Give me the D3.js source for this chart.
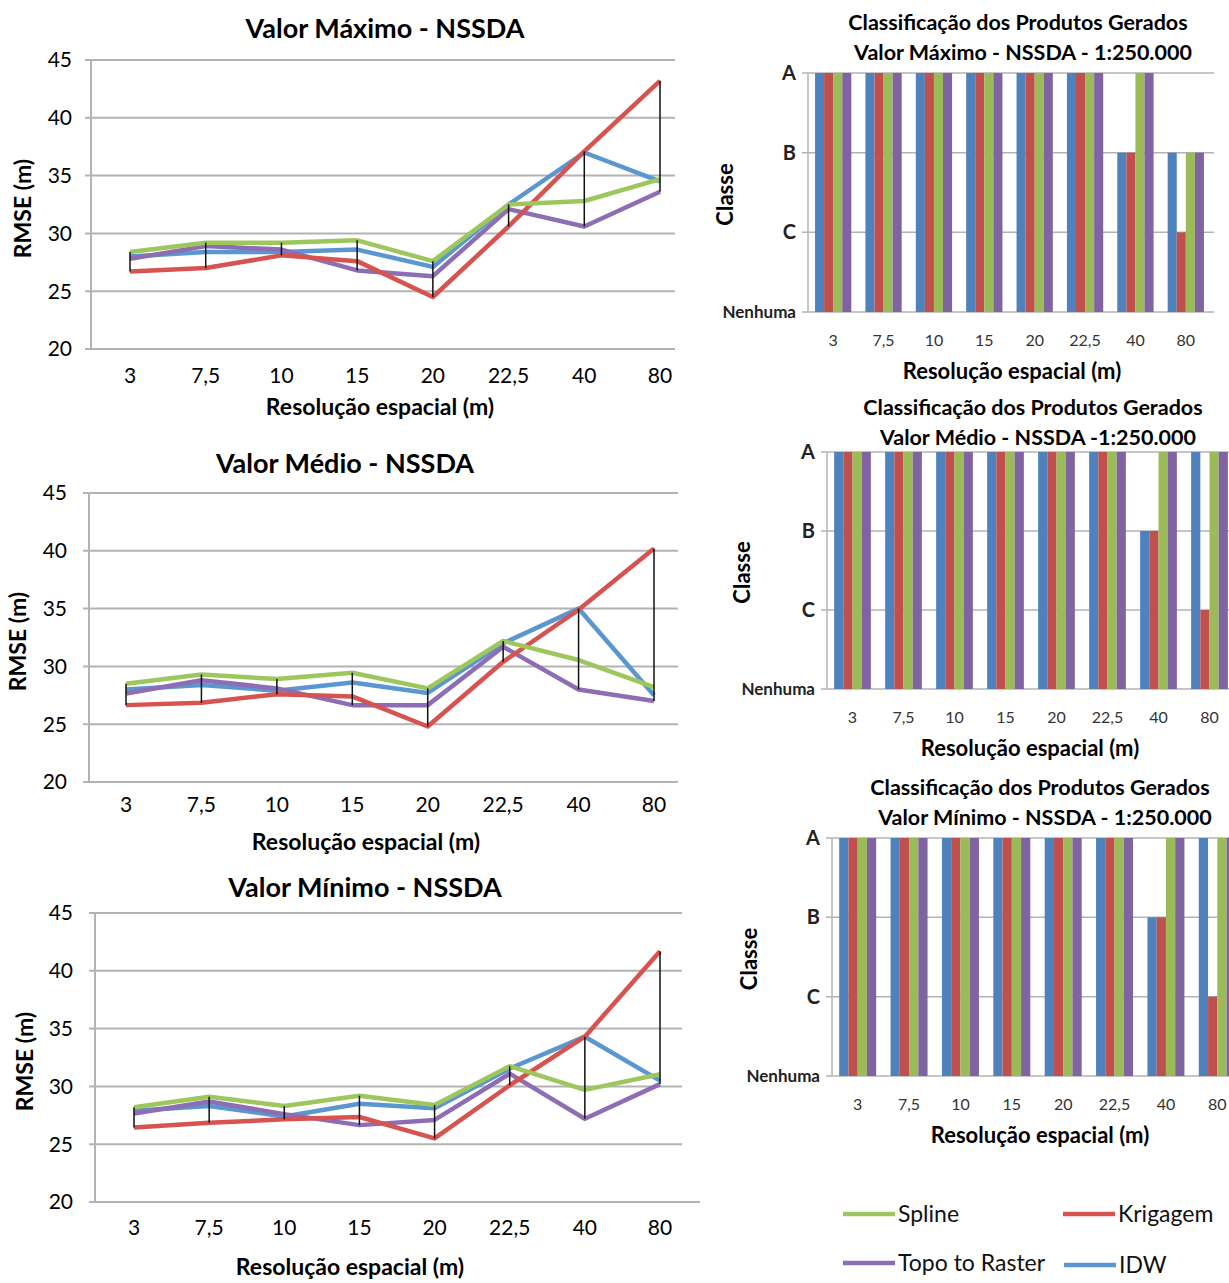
<!DOCTYPE html>
<html>
<head>
<meta charset="utf-8">
<script src="https://cdn.jsdelivr.net/npm/d3@7"></script>
<style>
  body { margin: 0; background: #fff; }
  svg { display: block; font-family: Lato, "Open Sans", sans-serif; }
</style>
</head>
<body>
<svg id="chart" width="1229" height="1283"></svg>
<script>
// categories (spatial resolution, m)
const categories = ['3', '7,5', '10', '15', '20', '22,5', '40', '80']
const yTicks = [20, 25, 30, 35, 40, 45]

// RMSE, valor maximo
const maxSpline   = [28.4, 29.2, 29.2, 29.4, 27.6, 32.5, 32.8, 34.7]
const maxKrigagem = [26.7, 27.0, 28.1, 27.6, 24.5, 30.6, 37.1, 43.2]
const maxTopo     = [27.8, 28.9, 28.6, 26.8, 26.3, 32.1, 30.6, 33.6]
const maxIdw      = [28.0, 28.4, 28.4, 28.6, 27.1, 32.5, 37.0, 34.5]

// RMSE, valor medio
const medSpline   = [28.5, 29.3, 28.9, 29.45, 28.1, 32.2, 30.55, 28.2]
const medKrigagem = [26.65, 26.85, 27.6, 27.4, 24.8, 30.4, 34.9, 40.2]
const medTopo     = [27.65, 28.8, 28.1, 26.65, 26.65, 31.7, 28.0, 27.0]
const medIdw      = [28.0, 28.4, 27.9, 28.6, 27.7, 32.0, 35.0, 27.5]

// RMSE, valor minimo
const minSpline   = [28.2, 29.1, 28.3, 29.2, 28.4, 31.75, 29.7, 31.05]
const minKrigagem = [26.45, 26.85, 27.15, 27.35, 25.5, 30.1, 34.3, 41.7]
const minTopo     = [27.65, 28.7, 27.6, 26.65, 27.1, 31.1, 27.2, 30.2]
const minIdw      = [27.9, 28.3, 27.4, 28.5, 28.1, 31.55, 34.3, 30.5]

// classes (PEC), per method
const classLevels = ['Nenhuma', 'C', 'B', 'A']
const maxClassIdw      = ['A', 'A', 'A', 'A', 'A', 'A', 'B', 'B']
const maxClassKrigagem = ['A', 'A', 'A', 'A', 'A', 'A', 'B', 'C']
const maxClassSpline   = ['A', 'A', 'A', 'A', 'A', 'A', 'A', 'B']
const maxClassTopo     = ['A', 'A', 'A', 'A', 'A', 'A', 'A', 'B']
const medClassIdw      = ['A', 'A', 'A', 'A', 'A', 'A', 'B', 'A']
const medClassKrigagem = ['A', 'A', 'A', 'A', 'A', 'A', 'B', 'C']
const medClassSpline   = ['A', 'A', 'A', 'A', 'A', 'A', 'A', 'A']
const medClassTopo     = ['A', 'A', 'A', 'A', 'A', 'A', 'A', 'A']
const minClassIdw      = ['A', 'A', 'A', 'A', 'A', 'A', 'B', 'A']
const minClassKrigagem = ['A', 'A', 'A', 'A', 'A', 'A', 'B', 'C']
const minClassSpline   = ['A', 'A', 'A', 'A', 'A', 'A', 'A', 'A']
const minClassTopo     = ['A', 'A', 'A', 'A', 'A', 'A', 'A', 'A']

const lineColors = { 'Spline':'#9dc75c', 'Krigagem':'#d6534f', 'Topo to Raster':'#8d6db3', 'IDW':'#5a96d0' }
const barColors  = { 'IDW':'#4f81bd', 'Krigagem':'#c0504d', 'Spline':'#9bbb59', 'Topo to Raster':'#8064a2' }
const legendOrder = ['Spline', 'Krigagem', 'Topo to Raster', 'IDW']

const svg = d3.select('#chart')
const grid = '#b3b3b3'

function lineChart(c) {
    var g = svg.append('g')
    var x = d3.scalePoint().domain(categories).range([c.x0, c.x1])
    var y = d3.scaleLinear().domain([20, 45]).range([c.yb, c.yt])

    // gridlines
    g.selectAll('line.grid').data(yTicks).enter().append('line')
        .attr('x1', c.axisX - 6).attr('x2', c.gridEnd)
        .attr('y1', d => y(d)).attr('y2', d => y(d))
        .attr('stroke', grid).attr('stroke-width', 2)
    g.append('line').attr('x1', c.axisX).attr('x2', c.axisX)
        .attr('y1', y(45)).attr('y2', y(20))
        .attr('stroke', grid).attr('stroke-width', 2)
    if (c.axisEnd) g.append('line').attr('x1', c.axisX).attr('x2', c.axisEnd)
        .attr('y1', y(20)).attr('y2', y(20)).attr('stroke', grid).attr('stroke-width', 2)

    // tick labels
    g.selectAll('text.yt').data(yTicks).enter().append('text')
        .attr('x', c.labelX).attr('y', d => y(d)).attr('dy', '0.35em')
        .attr('text-anchor', 'end').attr('font-size', 21).text(d => d)
    g.selectAll('text.xt').data(categories).enter().append('text')
        .attr('x', d => x(d)).attr('y', c.xLabelY)
        .attr('text-anchor', 'middle').attr('font-size', 21).text(d => d)

    // titles
    g.append('text').attr('x', c.titleX).attr('y', c.titleY)
        .attr('text-anchor', 'middle').attr('font-size', 27).attr('font-weight', 'bold').text(c.title)
    g.append('text').attr('x', c.xTitleX).attr('y', c.xTitleY)
        .attr('text-anchor', 'middle').attr('font-size', 23).attr('font-weight', 'bold')
        .text('Resolução espacial (m)')
    g.append('text').attr('transform', 'translate(' + c.yTitleX + ',' + ((y(45) + y(20)) / 2 + 4) + ') rotate(-90)')
        .attr('text-anchor', 'middle').attr('font-size', 23).attr('font-weight', 'bold').text('RMSE (m)')

    var line = d3.line().x((d, i) => x(categories[i])).y(d => y(d))
    var order = ['IDW', 'Topo to Raster', 'Krigagem', 'Spline']
    order.forEach(function(name) {
        g.append('path').datum(c.series[name])
            .attr('d', line).attr('fill', 'none')
            .attr('stroke', lineColors[name]).attr('stroke-width', 4.5)
            .attr('stroke-linejoin', 'round')
    })

    // high-low lines
    var hl = categories.map(function(cat, i) {
        var vals = order.map(n => c.series[n][i])
        return { cat: cat, hi: d3.max(vals), lo: d3.min(vals) }
    })
    g.selectAll('line.hl').data(hl).enter().append('line')
        .attr('x1', d => x(d.cat)).attr('x2', d => x(d.cat))
        .attr('y1', d => y(d.hi)).attr('y2', d => y(d.lo))
        .attr('stroke', '#111').attr('stroke-width', 1.5)
}

function barChart(c) {
    var g = svg.append('g')
    var x = d3.scaleBand().domain(categories).range([c.x0, c.x1]).paddingInner(0.28).paddingOuter(0.14)
    var methods = ['IDW', 'Krigagem', 'Spline', 'Topo to Raster']
    var xs = d3.scaleBand().domain(methods).range([0, x.bandwidth()])
    var y = d3.scaleLinear().domain([0, 3]).range([c.yb, c.yt])

    g.selectAll('line.grid').data(d3.range(4)).enter().append('line')
        .attr('x1', c.x0 - 6).attr('x2', c.gridEnd)
        .attr('y1', d => y(d)).attr('y2', d => y(d))
        .attr('stroke', grid).attr('stroke-width', 1.5)
    g.append('line').attr('x1', c.x0).attr('x2', c.x0)
        .attr('y1', y(3)).attr('y2', y(0)).attr('stroke', grid).attr('stroke-width', 1.5)

    var cells = []
    categories.forEach(function(cat, i) {
        methods.forEach(function(m) {
            cells.push({ cat: cat, m: m, v: classLevels.indexOf(c.classes[m][i]) })
        })
    })
    g.selectAll('rect').data(cells).enter().append('rect')
        .attr('x', d => x(d.cat) + xs(d.m)).attr('width', xs.bandwidth())
        .attr('y', d => y(d.v)).attr('height', d => y(0) - y(d.v))
        .attr('fill', d => barColors[d.m])

    g.selectAll('text.yt').data(classLevels).enter().append('text')
        .attr('x', c.x0 - 12).attr('y', (d, i) => y(i)).attr('dy', '0.35em')
        .attr('text-anchor', 'end').attr('font-weight', 'bold')
        .attr('font-size', d => d == 'Nenhuma' ? 17 : 20).attr('fill', '#222').text(d => d)
    g.selectAll('text.xt').data(categories).enter().append('text')
        .attr('x', d => x(d) + x.bandwidth() / 2).attr('y', c.yb + 34)
        .attr('text-anchor', 'middle').attr('font-size', 16).attr('fill', '#333').text(d => d)

    g.append('text').attr('x', c.titleX).attr('y', c.titleY)
        .attr('text-anchor', 'middle').attr('font-size', 21.5).attr('font-weight', 'bold')
        .text('Classificação dos Produtos Gerados')
    g.append('text').attr('x', c.titleX + 5).attr('y', c.titleY + 30)
        .attr('text-anchor', 'middle').attr('font-size', 21.5).attr('font-weight', 'bold').text(c.title)
    g.append('text').attr('x', c.xTitleX).attr('y', c.yb + 67)
        .attr('text-anchor', 'middle').attr('font-size', 22).attr('font-weight', 'bold')
        .text('Resolução espacial (m)')
    g.append('text').attr('transform', 'translate(' + c.yTitleX + ',' + ((y(3) + y(0)) / 2 + 2) + ') rotate(-90)')
        .attr('text-anchor', 'middle').attr('font-size', 22).attr('font-weight', 'bold').text('Classe')
}

lineChart({ title: 'Valor Máximo - NSSDA', titleX: 385, titleY: 38,
    x0: 130, x1: 660, yt: 60, yb: 349, axisX: 91, gridEnd: 675, labelX: 72,
    xLabelY: 383, xTitleX: 380, xTitleY: 415, yTitleX: 31,
    series: { 'Spline': maxSpline, 'Krigagem': maxKrigagem, 'Topo to Raster': maxTopo, 'IDW': maxIdw } })
lineChart({ title: 'Valor Médio - NSSDA', titleX: 345, titleY: 473,
    x0: 126, x1: 654, yt: 493, yb: 782, axisX: 89, gridEnd: 678, labelX: 67,
    xLabelY: 812, xTitleX: 366, xTitleY: 850, yTitleX: 26,
    series: { 'Spline': medSpline, 'Krigagem': medKrigagem, 'Topo to Raster': medTopo, 'IDW': medIdw } })
lineChart({ title: 'Valor Mínimo - NSSDA', titleX: 365, titleY: 897,
    x0: 134, x1: 660, yt: 913, yb: 1202, axisX: 95, gridEnd: 682, axisEnd: 700, labelX: 73,
    xLabelY: 1235, xTitleX: 350, xTitleY: 1275, yTitleX: 33,
    series: { 'Spline': minSpline, 'Krigagem': minKrigagem, 'Topo to Raster': minTopo, 'IDW': minIdw } })

barChart({ title: 'Valor Máximo - NSSDA - 1:250.000', titleX: 1018, titleY: 30,
    x0: 808, x1: 1211, yt: 73, yb: 312, gridEnd: 1214, xTitleX: 1012, yTitleX: 733,
    classes: { 'IDW': maxClassIdw, 'Krigagem': maxClassKrigagem, 'Spline': maxClassSpline, 'Topo to Raster': maxClassTopo } })
barChart({ title: 'Valor Médio - NSSDA -1:250.000', titleX: 1033, titleY: 415,
    x0: 827, x1: 1235, yt: 452, yb: 689, gridEnd: 1229, xTitleX: 1030, yTitleX: 750,
    classes: { 'IDW': medClassIdw, 'Krigagem': medClassKrigagem, 'Spline': medClassSpline, 'Topo to Raster': medClassTopo } })
barChart({ title: 'Valor Mínimo -  NSSDA - 1:250.000', titleX: 1040, titleY: 795,
    x0: 832, x1: 1243, yt: 838, yb: 1076, gridEnd: 1229, xTitleX: 1040, yTitleX: 757,
    classes: { 'IDW': minClassIdw, 'Krigagem': minClassKrigagem, 'Spline': minClassSpline, 'Topo to Raster': minClassTopo } })

// legend
var legendPos = [[843, 1214], [1063, 1214], [843, 1263], [1064, 1265]]
var lg = svg.append('g').selectAll('g').data(legendOrder).enter().append('g')
    .attr('transform', (d, i) => 'translate(' + legendPos[i][0] + ',' + legendPos[i][1] + ')')
lg.append('line').attr('x1', 0).attr('x2', 52).attr('y1', 0).attr('y2', 0)
    .attr('stroke', d => lineColors[d]).attr('stroke-width', 4.5)
lg.append('text').attr('x', 55).attr('y', 0).attr('dy', '0.35em')
    .attr('font-size', 23).attr('fill', '#111').text(d => d)
</script>
</body>
</html>
